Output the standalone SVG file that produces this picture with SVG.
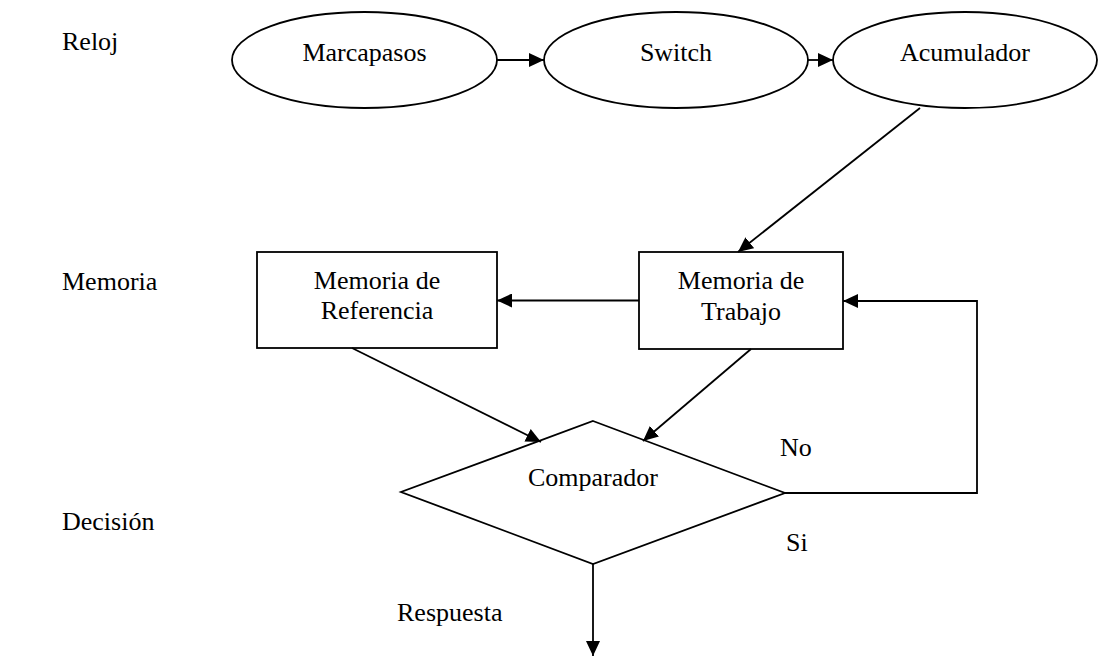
<svg xmlns="http://www.w3.org/2000/svg" width="1115" height="656" viewBox="0 0 1115 656">
<defs>
<marker id="ah" markerUnits="userSpaceOnUse" markerWidth="16" markerHeight="14" refX="15" refY="7" orient="auto">
<path d="M0,0 L15,7 L0,14 Z" fill="#000"/>
</marker>
<style>
.s{fill:#fff;stroke:#000;stroke-width:1.8}
.t{font-family:"Liberation Serif","Times New Roman",serif;font-size:26px;fill:#000}
.m{text-anchor:middle}
.c{fill:none;stroke:#000;stroke-width:1.8;marker-end:url(#ah)}
</style>
</defs>
<rect width="1115" height="656" fill="#fff"/>
<g id="labels">
<text class="t" x="62" y="50">Reloj</text>
<text class="t" x="62" y="290">Memoria</text>
<text class="t" x="62" y="530">Decisión</text>
<text class="t" x="780" y="456">No</text>
<text class="t" x="786" y="551">Si</text>
<text class="t" x="397" y="621">Respuesta</text>
</g>
<g id="marcapasos"><ellipse class="s" cx="364.5" cy="60" rx="132.5" ry="48"/><text class="t m" x="364.5" y="61">Marcapasos</text></g>
<g id="switch"><ellipse class="s" cx="676" cy="60" rx="132" ry="48"/><text class="t m" x="676" y="61">Switch</text></g>
<g id="acumulador"><ellipse class="s" cx="965" cy="60" rx="132" ry="48"/><text class="t m" x="965" y="61">Acumulador</text></g>
<g id="mem-ref"><rect class="s" x="257" y="252" width="240" height="96"/><text class="t m" x="377" y="289">Memoria de</text><text class="t m" x="377" y="319">Referencia</text></g>
<g id="mem-trab"><rect class="s" x="639" y="252" width="204" height="97"/><text class="t m" x="741" y="289">Memoria de</text><text class="t m" x="741" y="320">Trabajo</text></g>
<g id="comparador"><polygon class="s" points="593,421 785,493 593,564 401,492"/><text class="t m" x="593" y="486">Comparador</text></g>
<g id="connectors">
<path class="c" d="M497,60 L544,60"/>
<path class="c" d="M808,60 L833,60"/>
<path class="c" d="M920,108 L738,252"/>
<path class="c" d="M639,300.5 L497,300.5"/>
<path class="c" d="M352,348 L541,442"/>
<path class="c" d="M751,349 L643,441"/>
<path class="c" d="M785,493 L977,493 L977,301 L843,301"/>
<path class="c" d="M593,564 L593,656"/>
</g>
</svg>
